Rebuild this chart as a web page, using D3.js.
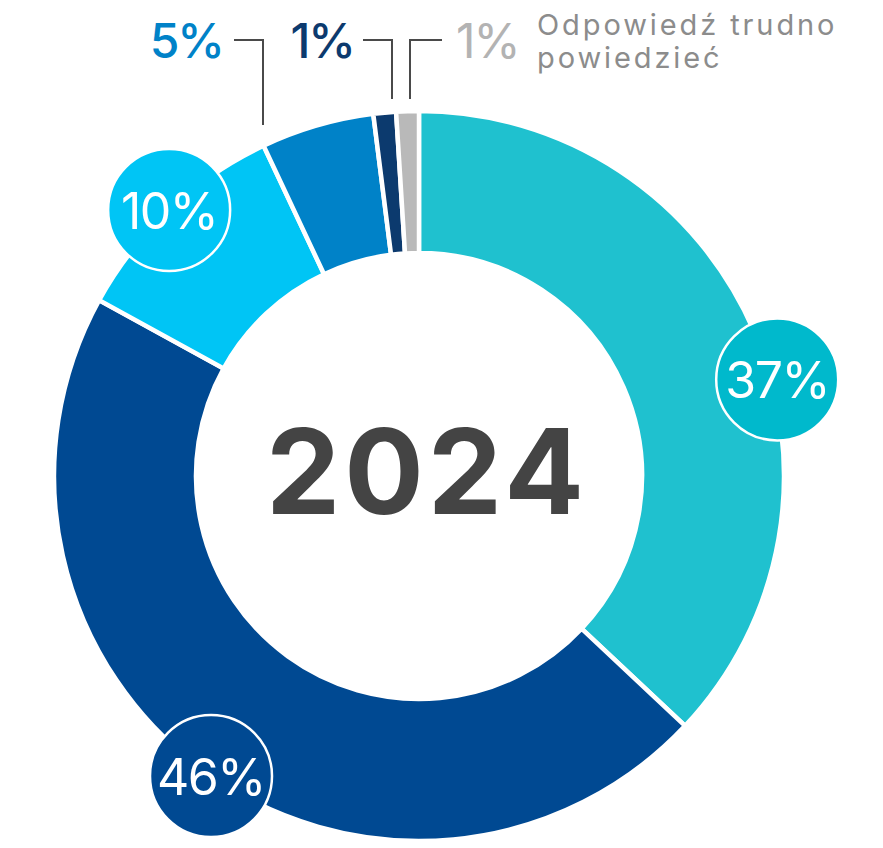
<!DOCTYPE html>
<html>
<head>
<meta charset="utf-8">
<script src="https://cdn.jsdelivr.net/npm/d3@7"></script>
<style>
  html, body { margin: 0; padding: 0; background: #fff; }
  svg { display: block; }
  text { font-family: Inter, "Noto Sans", sans-serif; }
</style>
</head>
<body>
<svg id="chart" width="883" height="848"></svg>
<script>
// Answer shares, clockwise from 12 o'clock
const categories = ["a", "b", "c", "d", "e", "Odpowiedź trudno powiedzieć"];
const values = [37, 46, 10, 5, 1, 1];
const labels = ["37%", "46%", "10%", "5%", "1%", "1%"];
const colors = ["#1fc1cf", "#004992", "#00c5f5", "#0082c8", "#0c3a6e", "#b9b9b9"];
const badgeColors = ["#00b9cc", "#004992", "#00c5f5", null, null, null];
const labelColors = [null, null, null, "#0082c8", "#0c3a6e", "#b3b3b3"];
const centerTitle = "2024";
const noteLines = ["Odpowiedź trudno", "powiedzieć"];

const svg = d3.select("#chart");
const cx = 419, cy = 476;
const outerR = 365, innerR = 223;

const g = svg.append("g").attr("transform", `translate(${cx},${cy})`);

const pie = d3.pie().value(d => d).sort(null);
const arcs = pie(values);
const arc = d3.arc().innerRadius(innerR).outerRadius(outerR);

g.selectAll("path.slice")
  .data(arcs)
  .join("path")
  .attr("class", "slice")
  .attr("d", arc)
  .attr("fill", (d, i) => colors[i])
  .attr("stroke", "#fff")
  .attr("stroke-width", 4.5)
  .attr("stroke-linejoin", "miter");

// Round value badges sitting on the outer edge of the large slices
const polar = (angle, r) => [r * Math.sin(angle), -r * Math.cos(angle)];
const badgeShift = [0.145, -0.022, 0]; // radians, nudges badges off the slice centre
arcs.forEach((a, i) => {
  if (!badgeColors[i]) return;
  const mid = (a.startAngle + a.endAngle) / 2 + (badgeShift[i] || 0);
  const [bx, by] = polar(mid, i === 0 ? 371 : 365);
  const b = g.append("g").attr("transform", `translate(${bx},${by})`);
  b.append("circle").attr("r", 61).attr("fill", badgeColors[i])
    .attr("stroke", "#fff").attr("stroke-width", 2.5);
  b.append("text").attr("text-anchor", "middle").attr("y", 19)
    .attr("fill", "#fff").attr("font-size", 50).attr("font-weight", 400)
    .attr("letter-spacing", -1.5)
    .text(labels[i]);
});

// Leader labels for the thin slices at the top
const elbowY = 40;
const leaders = {
  3: { x: 263, endY: 125, side: "left", hx: 234, tx: 223, weight: 500 },
  4: { x: 392, endY: 99, side: "left", hx: 363, tx: 354, weight: 500 },
  5: { x: 410, endY: 99, side: "right", hx: 442, tx: 456, weight: 400 }
};
arcs.forEach((a, i) => {
  const L = leaders[i];
  if (!L) return;
  svg.append("path")
    .attr("d", d3.line()([[L.hx, elbowY], [L.x, elbowY], [L.x, L.endY]]))
    .attr("fill", "none").attr("stroke", "#4a4a4a").attr("stroke-width", 2);
  svg.append("text")
    .attr("x", L.tx).attr("y", 58)
    .attr("text-anchor", L.side === "left" ? "end" : "start")
    .attr("fill", labelColors[i]).attr("font-size", 48)
    .attr("font-weight", L.weight).attr("letter-spacing", -2)
    .text(labels[i]);
});

svg.append("text")
  .attr("x", 537).attr("y", 35)
  .attr("fill", "#8c8c8c").attr("font-size", 29).attr("letter-spacing", 2.9)
  .selectAll("tspan").data(noteLines).join("tspan")
  .attr("x", 537).attr("dy", (d, i) => i ? 33 : 0)
  .text(d => d);

svg.append("text")
  .attr("x", 427).attr("y", 514)
  .attr("text-anchor", "middle")
  .attr("fill", "#444444").attr("font-size", 118).attr("font-weight", 700)
  .attr("letter-spacing", 4)
  .text(centerTitle);
</script>
</body>
</html>
